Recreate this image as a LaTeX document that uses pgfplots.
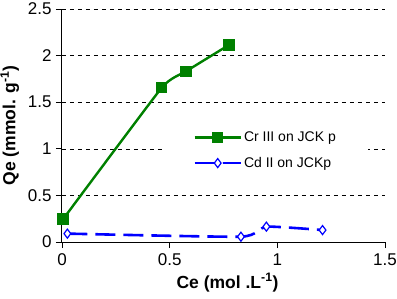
\documentclass[border=0pt]{standalone}
\usepackage{pgfplots}
\pgfplotsset{compat=1.18}
\usepackage{fontspec}
\setmainfont{Liberation Sans}
\definecolor{crgreen}{RGB}{0,128,0}
\definecolor{cdblue}{RGB}{0,0,255}
\begin{document}
\begin{tikzpicture}
\begin{axis}[
  scale only axis, width=323pt, height=233pt,
  at={(0,0)}, anchor=south west,
  xmin=0, xmax=1.5, ymin=0, ymax=2.5,
  axis x line*=bottom, axis y line*=left,
  axis line style={black, line width=1pt, -},
  xtick={0,0.5,1,1.5}, ytick={0,0.5,1,1.5,2,2.5},
  tick align=outside, major tick length=6pt,
  tick style={black, line width=0.8pt},
  ymajorgrids, grid style={black, dashed, line width=0.6pt, dash pattern=on 4pt off 4pt},
  /pgf/number format/assume math mode=true,
  ticklabel style={font=\fontsize{17}{19}\selectfont},
  xticklabel style={yshift=-2pt},
  yticklabel style={xshift=-1pt},
  xlabel={\textbf{Ce (mol .L\textsuperscript{-1})}},
  ylabel={\textbf{Qe (mmol. g\textsuperscript{-1})}},
  label style={font=\fontsize{17.5}{19}\selectfont},
  xlabel style={yshift=-1pt, xshift=4pt},
  ylabel style={yshift=2pt},
  legend image code/.code={\draw[mark repeat=2,mark phase=2,#1] plot coordinates {(0pt,0pt)(23pt,0pt)(46pt,0pt)};},
  legend style={at={(axis cs:0.47,1.29)}, anchor=north west, draw=none, fill=white,
    font=\fontsize{14}{16}\selectfont, row sep=10pt, inner xsep=30pt, inner ysep=8pt,
    /tikz/every even column/.append style={column sep=3pt}},
  legend cell align=left,
]
\addplot[crgreen, line width=2.4pt, smooth, tension=0.25, mark=square*, mark size=4.5pt, mark options={solid, fill=crgreen}]
  coordinates {(0.005,0.245) (0.463,1.655) (0.575,1.83) (0.776,2.115)};
\addlegendentry{Cr III on JCK p}
\addplot[cdblue, line width=2.6pt, smooth, tension=0.3, dash pattern=on 20pt off 8pt, mark=diamond*, mark size=4.5pt, mark options={solid, fill=white, line width=1.2pt}]
  coordinates {(0.025,0.09) (0.831,0.057) (0.949,0.165) (1.21,0.128)};
\addlegendentry{Cd II on JCKp}
\end{axis}
\pgfresetboundingbox
\useasboundingbox (-62pt,-56pt) rectangle (335pt,242pt);
\end{tikzpicture}
\end{document}
